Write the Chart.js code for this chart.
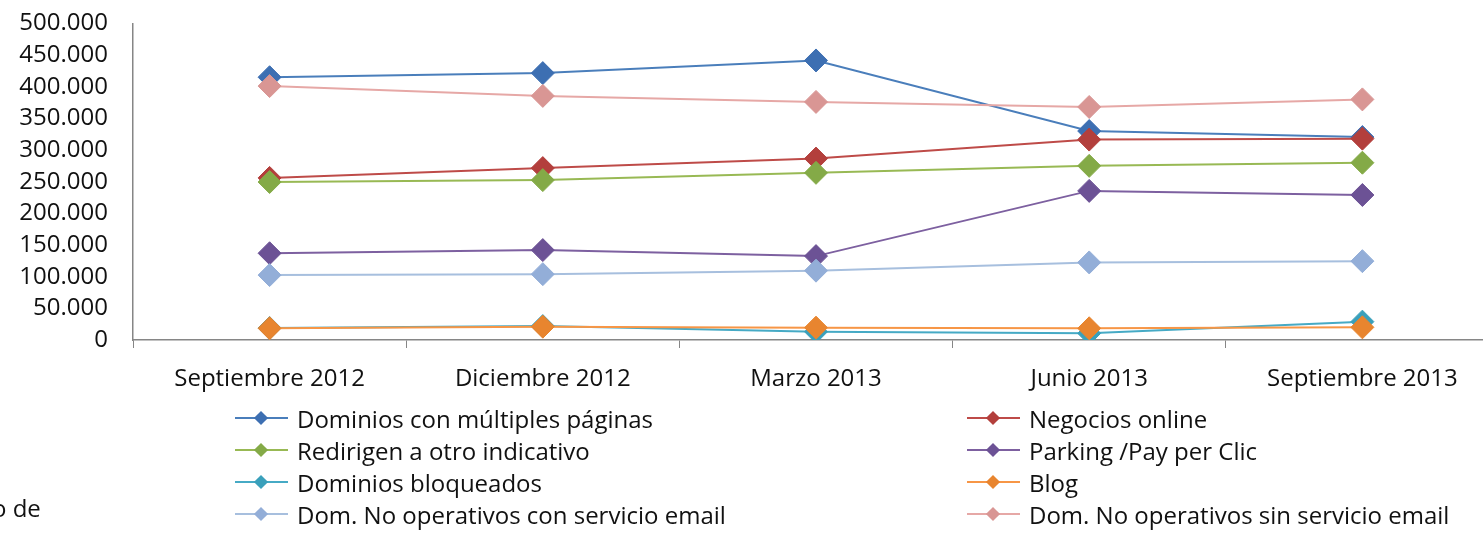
<!DOCTYPE html>
<html>
<head>
<meta charset="utf-8">
<title>Dominios</title>
<script src="https://cdn.jsdelivr.net/npm/chart.js@4/dist/chart.umd.min.js"></script>
<style>
  html, body { margin: 0; padding: 0; background: #fff; width: 1483px; height: 544px; overflow: hidden; }
  #wrap { position: absolute; left: 0; top: -16px; width: 1520px; height: 560px; }
  #legend { position: absolute; left: 0; top: 0; }
  .item { position: absolute; height: 32px; display: flex; align-items: center;
          font-family: "Open Sans", sans-serif; font-size: 24px; color: #111; white-space: nowrap; }
  .mk { position: relative; width: 53px; height: 32px; margin-right: 9px; }
  .mk .ln { position: absolute; left: 0; right: 0; top: 15px; height: 2px; }
  .mk .dm { position: absolute; left: 21px; top: 11px; width: 10px; height: 10px; transform: rotate(45deg); }
  #cut { position: absolute; left: -8px; top: 491px; font-family: "Open Sans", sans-serif; font-size: 24px; color: #111; }
</style>
</head>
<body>
<div id="wrap">
  <canvas id="chart" width="1520" height="560"></canvas>
</div>
<div id="legend"></div>
<div id="cut">o de</div>
<script>
const categories = ["Septiembre 2012", "Diciembre 2012", "Marzo 2013", "Junio 2013", "Septiembre 2013"];

const multiplesPaginas = [415000, 421500, 441500, 330000, 320500];
const negociosOnline   = [256000, 271500, 286500, 316500, 318000];
const redirigen        = [249500, 252500, 264000, 275000, 280000];
const parking          = [137000, 142000, 132500, 235500, 229000];
const bloqueados       = [19000, 22000, 13000, 10500, 29000];
const blog             = [18500, 21000, 19500, 18500, 20000];
const noOpConEmail     = [102500, 104000, 109500, 122500, 124500];
const noOpSinEmail     = [401000, 385500, 376000, 368000, 380000];

const yTickLabels = ["0", "50.000", "100.000", "150.000", "200.000", "250.000",
                     "300.000", "350.000", "400.000", "450.000", "500.000"];

const series = [
  { label: "Dominios con múltiples páginas", data: multiplesPaginas, line: "#4a7ebb", fill: "#3d6fb2" },
  { label: "Negocios online", data: negociosOnline, line: "#be4b48", fill: "#b33f3c" },
  { label: "Redirigen a otro indicativo", data: redirigen, line: "#98b954", fill: "#84aa47" },
  { label: "Parking /Pay per Clic", data: parking, line: "#7d60a0", fill: "#6c5295" },
  { label: "Dominios bloqueados", data: bloqueados, line: "#46aac5", fill: "#3aa0bb" },
  { label: "Blog", data: blog, line: "#f79646", fill: "#e8852f" },
  { label: "Dom. No operativos con servicio email", data: noOpConEmail, line: "#a7bfde", fill: "#93aed8" },
  { label: "Dom. No operativos sin servicio email", data: noOpSinEmail, line: "#e6a8a6", fill: "#d99694" }
];

const datasets = series.map((s, i) => ({
  label: s.label,
  data: s.data,
  borderColor: s.line,
  backgroundColor: s.fill,
  borderWidth: 2,
  tension: 0,
  pointStyle: "rectRot",
  pointRadius: 11.5,
  pointBorderWidth: 1,
  pointBorderColor: s.fill,
  pointBackgroundColor: s.fill,
  order: series.length - i
}));

const chart = new Chart(document.getElementById("chart"), {
  type: "line",
  data: { labels: categories, datasets: datasets },
  options: {
    responsive: false,
    animation: false,
    devicePixelRatio: 1,
    layout: { padding: { left: 0, top: 0, right: 21, bottom: 0 } },
    plugins: { legend: { display: false }, tooltip: { enabled: false } },
    scales: {
      x: {
        type: "category",
        offset: true,
        grid: { offset: true, drawOnChartArea: false, drawTicks: true, tickLength: 8, color: "#868686" },
        border: { color: "#868686", width: 1.5 },
        ticks: { color: "#111", padding: 17, maxRotation: 0, autoSkip: false,
                 font: { family: "Open Sans", size: 24 } },
        afterFit: s => { s.height = 204; }
      },
      y: {
        min: 0,
        max: 500000,
        grid: { display: false, drawTicks: false },
        border: { color: "#868686", width: 1.5 },
        ticks: { stepSize: 50000, padding: 25, color: "#111", autoSkip: false,
                 font: { family: "Open Sans", size: 24 },
                 callback: (v, i) => yTickLabels[i] },
        afterFit: s => { s.width = 133; }
      }
    }
  }
});

// legend in two columns, built from the chart's datasets
const legend = document.getElementById("legend");
const colX = [235, 967];
const rowY = [402, 434, 466, 498];
chart.data.datasets.forEach((ds, i) => {
  const item = document.createElement("div");
  item.className = "item";
  item.style.left = colX[i % 2] + "px";
  item.style.top = rowY[Math.floor(i / 2)] + "px";
  item.innerHTML = '<span class="mk"><span class="ln" style="background:' + ds.borderColor +
    '"></span><span class="dm" style="background:' + ds.backgroundColor + '"></span></span>';
  const txt = document.createElement("span");
  txt.textContent = ds.label;
  item.appendChild(txt);
  legend.appendChild(item);
});
</script>
</body>
</html>
